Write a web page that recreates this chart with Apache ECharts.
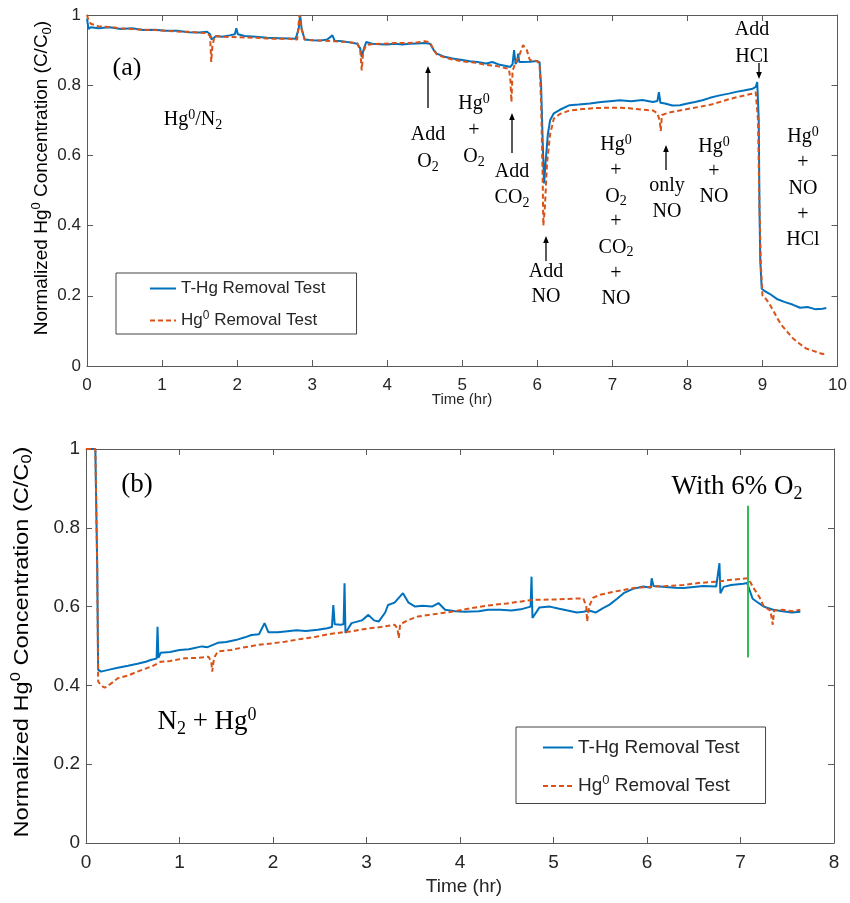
<!DOCTYPE html>
<html>
<head>
<meta charset="utf-8">
<script src="https://cdn.jsdelivr.net/npm/echarts@6/dist/echarts.min.js"></script>
<style>html,body{margin:0;padding:0;background:#fff}#c{width:850px;height:903px}</style>
</head>
<body>
<div id="c"></div>
<script>
// ---------- DATA ----------
// (a) top panel
const xTicksA = [0,1,2,3,4,5,6,7,8,9,10];
const yTicks = [0,0.2,0.4,0.6,0.8,1];
const tBlueA = [0,0.02,0.05,0.15,0.3,0.45,0.6,0.75,0.9,1.05,1.2,1.35,1.5,1.6,1.64,1.66,1.68,1.72,1.8,1.9,1.97,1.99,2.01,2.1,2.25,2.4,2.55,2.7,2.78,2.82,2.84,2.86,2.9,3.0,3.1,3.2,3.27,3.3,3.4,3.5,3.6,3.64,3.66,3.69,3.72,3.8,3.9,4.0,4.1,4.2,4.3,4.4,4.5,4.57,4.62,4.66,4.75,4.87,5.0,5.1,5.2,5.32,5.4,5.5,5.6,5.64,5.67,5.69,5.71,5.73,5.745,5.76,5.8,5.9,6.0,6.03,6.05,6.07,6.09,6.11,6.14,6.17,6.22,6.3,6.43,6.55,6.7,6.85,7.0,7.1,7.25,7.4,7.54,7.6,7.62,7.64,7.7,7.8,7.9,8.0,8.1,8.2,8.3,8.43,8.55,8.65,8.75,8.87,8.91,8.93,8.95,8.96,8.97,8.99,9.02,9.1,9.2,9.3,9.4,9.5,9.6,9.7,9.8,9.85];
const blueA = [0.99,0.96,0.965,0.962,0.965,0.96,0.962,0.957,0.958,0.955,0.955,0.951,0.95,0.952,0.945,0.93,0.935,0.94,0.938,0.942,0.945,0.962,0.945,0.94,0.938,0.935,0.934,0.933,0.932,0.96,1.0,0.96,0.93,0.928,0.927,0.93,0.942,0.927,0.925,0.922,0.918,0.905,0.88,0.905,0.923,0.918,0.917,0.916,0.918,0.916,0.918,0.919,0.92,0.918,0.9,0.89,0.882,0.876,0.872,0.868,0.866,0.862,0.866,0.858,0.854,0.852,0.86,0.9,0.86,0.868,0.89,0.866,0.866,0.867,0.869,0.865,0.8,0.65,0.52,0.58,0.66,0.7,0.72,0.73,0.743,0.745,0.748,0.752,0.755,0.757,0.754,0.758,0.752,0.755,0.78,0.75,0.748,0.742,0.743,0.748,0.752,0.757,0.764,0.771,0.776,0.781,0.785,0.79,0.795,0.809,0.7,0.45,0.3,0.22,0.215,0.205,0.19,0.182,0.175,0.166,0.168,0.162,0.163,0.165];
const tRedA = [0,0.02,0.05,0.15,0.3,0.45,0.6,0.75,0.9,1.05,1.2,1.35,1.5,1.6,1.64,1.655,1.67,1.7,1.8,1.95,2.1,2.25,2.4,2.55,2.7,2.8,2.83,2.86,2.9,3.0,3.15,3.3,3.45,3.6,3.64,3.66,3.68,3.72,3.8,3.95,4.1,4.25,4.4,4.5,4.57,4.62,4.66,4.75,4.87,5.0,5.15,5.32,5.45,5.55,5.62,5.64,5.655,5.67,5.7,5.75,5.81,5.86,5.9,6.0,6.03,6.05,6.07,6.08,6.1,6.13,6.17,6.22,6.3,6.43,6.6,6.8,7.0,7.2,7.4,7.54,7.6,7.63,7.645,7.66,7.75,7.9,8.05,8.2,8.32,8.43,8.55,8.7,8.87,8.91,8.94,8.96,8.98,9.0,9.05,9.09,9.15,9.2,9.26,9.32,9.4,9.49,9.58,9.65,9.72,9.8,9.85];
const redA = [1.0,0.985,0.975,0.968,0.966,0.962,0.96,0.958,0.957,0.955,0.953,0.952,0.95,0.948,0.94,0.866,0.91,0.94,0.938,0.937,0.936,0.935,0.933,0.932,0.932,0.93,1.0,0.96,0.93,0.928,0.927,0.925,0.923,0.92,0.9,0.842,0.895,0.915,0.917,0.918,0.92,0.92,0.922,0.925,0.922,0.9,0.888,0.88,0.873,0.868,0.865,0.858,0.855,0.85,0.847,0.82,0.752,0.84,0.86,0.88,0.914,0.9,0.872,0.868,0.86,0.75,0.55,0.4,0.45,0.58,0.66,0.705,0.718,0.728,0.732,0.735,0.736,0.735,0.73,0.728,0.72,0.7,0.67,0.715,0.722,0.728,0.734,0.74,0.745,0.752,0.76,0.768,0.776,0.78,0.7,0.45,0.28,0.2,0.19,0.178,0.155,0.135,0.115,0.1,0.08,0.064,0.05,0.045,0.04,0.034,0.036];

// (b) bottom panel
const xTicksB = [0,1,2,3,4,5,6,7,8];
const tBlueB = [0,0.1,0.12,0.13,0.16,0.25,0.34,0.45,0.55,0.64,0.7,0.755,0.765,0.775,0.8,0.9,1.0,1.1,1.24,1.3,1.41,1.5,1.6,1.7,1.77,1.85,1.91,1.95,2.05,2.13,2.25,2.35,2.48,2.58,2.63,2.645,2.66,2.72,2.755,2.765,2.775,2.84,2.95,3.02,3.08,3.13,3.2,3.23,3.3,3.39,3.45,3.52,3.6,3.7,3.77,3.84,3.95,4.05,4.2,4.3,4.43,4.55,4.65,4.755,4.765,4.775,4.85,4.96,5.05,5.15,5.25,5.32,5.38,5.45,5.53,5.6,5.68,5.75,5.85,5.96,6.04,6.05,6.07,6.2,6.3,6.39,6.5,6.6,6.74,6.775,6.785,6.82,6.9,7.03,7.07,7.1,7.13,7.17,7.25,7.35,7.45,7.55,7.64];
const blueB = [1.0,1.0,0.7,0.44,0.435,0.44,0.445,0.45,0.455,0.46,0.465,0.468,0.549,0.47,0.483,0.485,0.49,0.492,0.499,0.497,0.508,0.51,0.515,0.522,0.528,0.53,0.558,0.535,0.535,0.537,0.54,0.538,0.541,0.545,0.548,0.604,0.555,0.554,0.555,0.659,0.533,0.558,0.565,0.579,0.565,0.562,0.585,0.604,0.61,0.634,0.61,0.6,0.602,0.6,0.609,0.592,0.588,0.587,0.588,0.592,0.592,0.59,0.593,0.6,0.676,0.571,0.598,0.6,0.595,0.59,0.585,0.587,0.59,0.585,0.596,0.605,0.62,0.634,0.645,0.651,0.648,0.672,0.652,0.65,0.648,0.647,0.65,0.652,0.651,0.71,0.634,0.65,0.655,0.658,0.66,0.64,0.62,0.613,0.6,0.592,0.588,0.585,0.587];
const tRedB = [0,0.1,0.12,0.13,0.16,0.2,0.27,0.34,0.45,0.55,0.7,0.8,0.9,1.06,1.2,1.31,1.34,1.35,1.37,1.41,1.55,1.7,1.85,2.0,2.13,2.3,2.45,2.6,2.75,2.84,3.0,3.15,3.3,3.33,3.345,3.36,3.45,3.55,3.7,3.91,4.1,4.3,4.5,4.78,5.0,5.2,5.32,5.35,5.36,5.38,5.42,5.5,5.65,5.86,6.0,6.2,6.39,6.55,6.74,6.9,7.07,7.11,7.14,7.2,7.25,7.32,7.345,7.36,7.45,7.55,7.64];
const redB = [1.0,1.0,0.7,0.41,0.4,0.394,0.405,0.418,0.425,0.435,0.448,0.46,0.462,0.469,0.47,0.473,0.46,0.435,0.47,0.486,0.49,0.497,0.503,0.507,0.511,0.518,0.523,0.53,0.535,0.537,0.544,0.548,0.554,0.545,0.52,0.555,0.566,0.575,0.58,0.587,0.595,0.603,0.608,0.617,0.618,0.62,0.621,0.6,0.562,0.6,0.622,0.63,0.638,0.647,0.65,0.652,0.655,0.66,0.663,0.668,0.672,0.66,0.647,0.625,0.6,0.59,0.554,0.59,0.592,0.588,0.592];
// "With 6% O2" marker line (time, lower/upper value)
const o2Time = 7.08;
const o2Range = [0.471, 0.856];

const seriesNames = ['T-Hg Removal Test', 'Hg0 Removal Test'];

// ---------- CHART ----------
const zip = (t, v) => t.map((x, i) => [x, v[i]]);
const BLUE = '#0072BD', RED = '#D95319', AX = '#5a5a5a', TXT = '#262626';
const SANS = 'Liberation Sans', SERIF = 'Liberation Serif';

function serifRich(fs) {
  return {
    n: {fontFamily: SERIF, fontSize: fs, lineHeight: Math.round(fs * 1.2), color: '#000'},
    p: {fontFamily: SERIF, fontSize: Math.round(fs * 0.68), lineHeight: Math.round(fs * 0.78), verticalAlign: 'top', color: '#000'},
    b: {fontFamily: SERIF, fontSize: Math.round(fs * 0.68), lineHeight: Math.round(fs * 0.78), verticalAlign: 'bottom', color: '#000'}
  };
}
function sansRich(fs, color) {
  return {
    n: {fontFamily: SANS, fontSize: fs, lineHeight: Math.round(fs * 1.25), color: color},
    p: {fontFamily: SANS, fontSize: Math.round(fs * 0.68), lineHeight: Math.round(fs * 0.8), verticalAlign: 'top', color: color},
    b: {fontFamily: SANS, fontSize: Math.round(fs * 0.68), lineHeight: Math.round(fs * 0.8), verticalAlign: 'bottom', color: color}
  };
}
// markup: ^x superscript char, _x subscript char
function toRich(s) {
  let out = '', buf = '';
  const flush = () => { if (buf) { out += '{n|' + buf + '}'; buf = ''; } };
  for (let i = 0; i < s.length; i++) {
    const c = s[i];
    if (c === '^' || c === '_') { flush(); out += '{' + (c === '^' ? 'p' : 'b') + '|' + s[i + 1] + '}'; i++; }
    else buf += c;
  }
  flush();
  return out;
}
function label(x, y, s, fs) {
  return {type: 'text', x: x, y: y, z: 100,
    style: {text: toRich(s), rich: serifRich(fs), align: 'center', verticalAlign: 'middle', fill: '#000'}};
}
function stack(x, y0, dy, lines, fs) {
  return lines.map((s, i) => label(x, y0 + i * dy, s, fs));
}
function arrow(x, yTail, yHead) {
  const dir = yHead < yTail ? 1 : -1;
  return {type: 'group', z: 100, children: [
    {type: 'line', shape: {x1: x, y1: yTail, x2: x, y2: yHead + dir * 5}, style: {stroke: '#000', lineWidth: 1.3}},
    {type: 'polygon', shape: {points: [[x, yHead], [x - 2.8, yHead + dir * 7], [x + 2.8, yHead + dir * 7]]}, style: {fill: '#000'}}
  ]};
}

function axesFor(gi, max, fs, margin) {
  const lab = {fontFamily: SANS, fontSize: fs, color: TXT};
  const line = {show: true, onZero: false, lineStyle: {color: AX, width: 1}};
  const tick = {show: true, inside: true, length: 6, lineStyle: {color: AX}};
  return {
    x: [
      {type: 'value', gridIndex: gi, min: 0, max: max, interval: 1, position: 'bottom', axisLine: line, axisTick: tick,
       axisLabel: Object.assign({margin: margin, formatter: v => String(v)}, lab), splitLine: {show: false}},
      {type: 'value', gridIndex: gi, min: 0, max: max, interval: 1, position: 'top', axisLine: line, axisTick: tick,
       axisLabel: {show: false}, splitLine: {show: false}}
    ],
    y: [
      {type: 'value', gridIndex: gi, min: 0, max: 1, interval: 0.2, position: 'left', axisLine: line, axisTick: tick,
       axisLabel: Object.assign({margin: 6, formatter: v => String(+v.toFixed(1))}, lab), splitLine: {show: false}},
      {type: 'value', gridIndex: gi, min: 0, max: 1, interval: 0.2, position: 'right', axisLine: line, axisTick: tick,
       axisLabel: {show: false}, splitLine: {show: false}}
    ]
  };
}
const axA = axesFor(0, xTicksA[xTicksA.length - 1], 17, 11);
const axB = axesFor(1, xTicksB[xTicksB.length - 1], 19, 10);

function lineSeries(name, data, xi, yi, color, dashed) {
  return {name: name, type: 'line', xAxisIndex: xi, yAxisIndex: yi, data: data, symbol: 'none', showSymbol: false,
    lineStyle: {color: color, width: 2, type: dashed ? [5, 3] : 'solid'}, itemStyle: {color: color},
    animation: false, z: dashed ? 3 : 2};
}
const legendFmt = name => name === 'Hg0 Removal Test' ? toRich('Hg^0 Removal Test') : toRich(name);

const option = {
  animation: false,
  backgroundColor: '#fff',
  grid: [
    {left: 87, top: 15, width: 751, height: 351},
    {left: 86, top: 449, width: 748, height: 394}
  ],
  xAxis: [axA.x[0], axA.x[1], axB.x[0], axB.x[1]],
  yAxis: [axA.y[0], axA.y[1], axB.y[0], axB.y[1]],
  legend: [
    {data: seriesNames, orient: 'vertical', left: 116, top: 273, padding: [7, 31, 5, 33], itemGap: 13,
     itemWidth: 26, itemHeight: 10, borderColor: '#444', borderWidth: 1, backgroundColor: '#fff',
     itemStyle: {opacity: 0}, lineStyle: {width: 2},
     formatter: legendFmt, textStyle: {rich: sansRich(17, TXT)}, selectedMode: false},
    {data: seriesNames, orient: 'vertical', left: 516, top: 727, padding: [11, 26, 8, 26], itemGap: 17,
     itemWidth: 30, itemHeight: 10, borderColor: '#444', borderWidth: 1, backgroundColor: '#fff',
     itemStyle: {opacity: 0}, lineStyle: {width: 2},
     formatter: legendFmt, textStyle: {rich: sansRich(19, TXT)}, selectedMode: false}
  ],
  series: [
    lineSeries(seriesNames[0], zip(tBlueA, blueA), 0, 0, BLUE, false),
    lineSeries(seriesNames[1], zip(tRedA, redA), 0, 0, RED, true),
    lineSeries(seriesNames[0], zip(tBlueB, blueB), 2, 2, BLUE, false),
    lineSeries(seriesNames[1], zip(tRedB, redB), 2, 2, RED, true),
    {name: 'O2 marker', type: 'line', xAxisIndex: 2, yAxisIndex: 2, symbol: 'none', animation: false, z: 4,
     data: [[o2Time, o2Range[0]], [o2Time, o2Range[1]]], lineStyle: {color: '#2DBE5A', width: 2}}
  ],
  graphic: [].concat(
    // axis titles
    [{type: 'text', x: 42, y: 178, rotation: Math.PI / 2, z: 100,
      style: {text: toRich('Normalized Hg^0 Concentration (C/C_0)'), rich: sansRich(19, TXT), align: 'center', verticalAlign: 'middle'}},
     {type: 'text', x: 462, y: 400, z: 100,
      style: {text: 'Time (hr)', fontFamily: SANS, fontSize: 15, fill: TXT, align: 'center', verticalAlign: 'middle'}},
     {type: 'text', x: 22, y: 642, rotation: Math.PI / 2, scaleX: 1.18, z: 100,
      style: {text: toRich('Normalized Hg^0 Concentration (C/C_0)'), rich: sansRich(20, TXT), align: 'center', verticalAlign: 'middle'}},
     {type: 'text', x: 464, y: 887, z: 100,
      style: {text: 'Time (hr)', fontFamily: SANS, fontSize: 19, fill: TXT, align: 'center', verticalAlign: 'middle'}}],
    // panel (a) annotations
    [label(127, 68, '(a)', 26), label(193, 120, 'Hg^0/N_2', 20)],
    stack(428, 135, 27, ['Add', 'O_2'], 20),
    stack(474, 104, 26.5, ['Hg^0', '+', 'O_2'], 20),
    stack(512, 172, 26, ['Add', 'CO_2'], 20),
    stack(546, 272, 25, ['Add', 'NO'], 20),
    stack(616, 145, 25.7, ['Hg^0', '+', 'O_2', '+', 'CO_2', '+', 'NO'], 20),
    stack(667, 186, 26, ['only', 'NO'], 20),
    stack(714, 147, 25, ['Hg^0', '+', 'NO'], 20),
    stack(752, 30, 27, ['Add', 'HCl'], 20),
    stack(803, 137, 25.8, ['Hg^0', '+', 'NO', '+', 'HCl'], 20),
    [arrow(428, 108, 66), arrow(512, 153, 113), arrow(546, 261, 236), arrow(666, 170, 145), arrow(759, 63, 79)],
    // panel (b) annotations
    [label(137, 485, '(b)', 27), label(737, 487, 'With 6% O_2', 27), label(207, 722, 'N_2 + Hg^0', 27)]
  )
};
const chart = echarts.init(document.getElementById('c'), null, {renderer: 'canvas'});
chart.setOption(option);
</script>
</body>
</html>
